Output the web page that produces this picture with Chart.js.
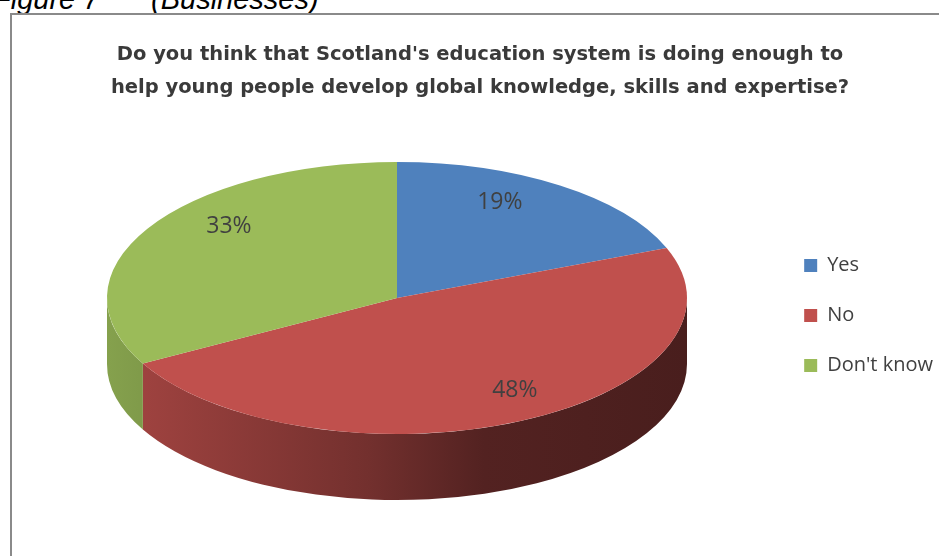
<!DOCTYPE html>
<html lang="en">
<head>
<meta charset="UTF-8">
<meta name="viewport" content="width=device-width, initial-scale=1.0">
<title>Global knowledge, skills and expertise (Businesses)</title>
<script src="https://cdn.jsdelivr.net/npm/chart.js"></script>
<style>
  body { margin: 0; width: 939px; height: 556px; overflow: hidden; background: #fff; position: relative; }
  #caption { position: absolute; left: -7px; top: -15px; font: italic 29px/29px "Liberation Sans", Arial, sans-serif; color: #000; white-space: nowrap; }
  #caption span + span { position: absolute; left: 158px; }
  #frame { position: absolute; left: 10px; top: 13px; width: 1000px; height: 600px; border: 2px solid #8a8a8a; }
  #chart-container { position: absolute; left: 0; top: 0; width: 939px; height: 556px; }
</style>
</head>
<body>
<div id="caption"><span>Figure 7</span><span>(Businesses)</span></div>
<div id="frame"></div>
<div id="chart-container">
  <canvas id="pieChart" width="939" height="556"></canvas>
</div>
<script>
  const categories = ['Yes', 'No', "Don't know"];
  const percentages = [19, 48, 33];
  const titleLines = [
    "Do you think that Scotland's education system is doing enough to",
    'help young people develop global knowledge, skills and expertise?'
  ];

  const sliceColours = ['#4f81bd', '#c0504d', '#9bbb59'];

  // where the tilted pie sits on the page
  const PIE = { cx: 397, cy: 298, rx: 290, ry: 136, depth: 66, apexY: 273, tilt: 0.19 };

  function shade(hex, k) {
    const n = parseInt(hex.slice(1), 16);
    const r = Math.round(((n >> 16) & 255) * k);
    const g = Math.round(((n >> 8) & 255) * k);
    const b = Math.round((n & 255) * k);
    return `rgb(${r},${g},${b})`;
  }

  // label spot on a disc seen at an angle: far side squeezed, near side stretched
  function project(angle, f) {
    const u = f * Math.cos(angle);
    const v = f * Math.sin(angle);
    const w = 1 - PIE.tilt * v;
    return [PIE.cx + PIE.rx * u / w, PIE.apexY + PIE.ry * v / w];
  }

  const pie3d = {
    id: 'pie3d',
    beforeDatasetsDraw(chart) {
      const ctx = chart.ctx;
      const arcs = chart.getDatasetMeta(0).data;
      const { cx, cy, rx, ry, depth } = PIE;

      // the rim: only the front half (0..PI) shows
      arcs.forEach((arc, i) => {
        const from = Math.max(arc.startAngle, 0);
        const to = Math.min(arc.endAngle, Math.PI);
        if (from >= to) return;
        const base = sliceColours[i];
        const grad = ctx.createLinearGradient(cx - rx, 0, cx + rx, 0);
        grad.addColorStop(0, shade(base, 0.86));
        grad.addColorStop(0.45, shade(base, 0.6));
        grad.addColorStop(0.65, shade(base, 0.43));
        grad.addColorStop(1, shade(base, 0.38));
        ctx.beginPath();
        ctx.ellipse(cx, cy, rx, ry, 0, from, to);
        ctx.ellipse(cx, cy + depth, rx, ry, 0, to, from, true);
        ctx.closePath();
        ctx.fillStyle = grad;
        ctx.fill();
      });

      // squash the round pie into the top face
      const a0 = arcs[0];
      ctx.save();
      ctx.translate(cx, cy);
      ctx.scale(rx / a0.outerRadius, ry / a0.outerRadius);
      ctx.translate(-a0.x, -a0.y);
    },
    afterDatasetsDraw(chart) {
      const ctx = chart.ctx;
      ctx.restore();

      const arcs = chart.getDatasetMeta(0).data;
      const reach = [0.7, 0.82, 0.72];
      ctx.save();
      ctx.font = '23px "Open Sans"';
      ctx.fillStyle = '#404040';
      ctx.textAlign = 'center';
      ctx.textBaseline = 'middle';
      arcs.forEach((arc, i) => {
        const mid = (arc.startAngle + arc.endAngle) / 2;
        const [x, y] = project(mid, reach[i]);
        ctx.fillText(percentages[i] + '%', x, y);
      });
      ctx.restore();
    }
  };

  const ctx = document.getElementById('pieChart').getContext('2d');

  new Chart(ctx, {
    type: 'pie',
    data: {
      labels: categories,
      datasets: [{
        data: percentages,
        backgroundColor: sliceColours,
        borderWidth: 0,
        clip: false
      }]
    },
    options: {
      responsive: false,
      animation: false,
      layout: {
        padding: { top: 20, left: 17, right: -4, bottom: 29.5 }
      },
      plugins: {
        title: {
          display: true,
          text: titleLines,
          color: '#3a3a3a',
          font: { family: 'DejaVu Sans', size: 19.5, weight: 'bold', lineHeight: 33 / 19.5 },
          padding: { top: 18.5, bottom: 0 }
        },
        legend: {
          position: 'right',
          fullSize: false,
          labels: {
            color: '#404040',
            font: { family: 'Open Sans', size: 20 },
            boxWidth: 13,
            boxHeight: 13,
            padding: 30
          }
        },
        tooltip: { enabled: false }
      }
    },
    plugins: [pie3d]
  });
</script>
</body>
</html>
